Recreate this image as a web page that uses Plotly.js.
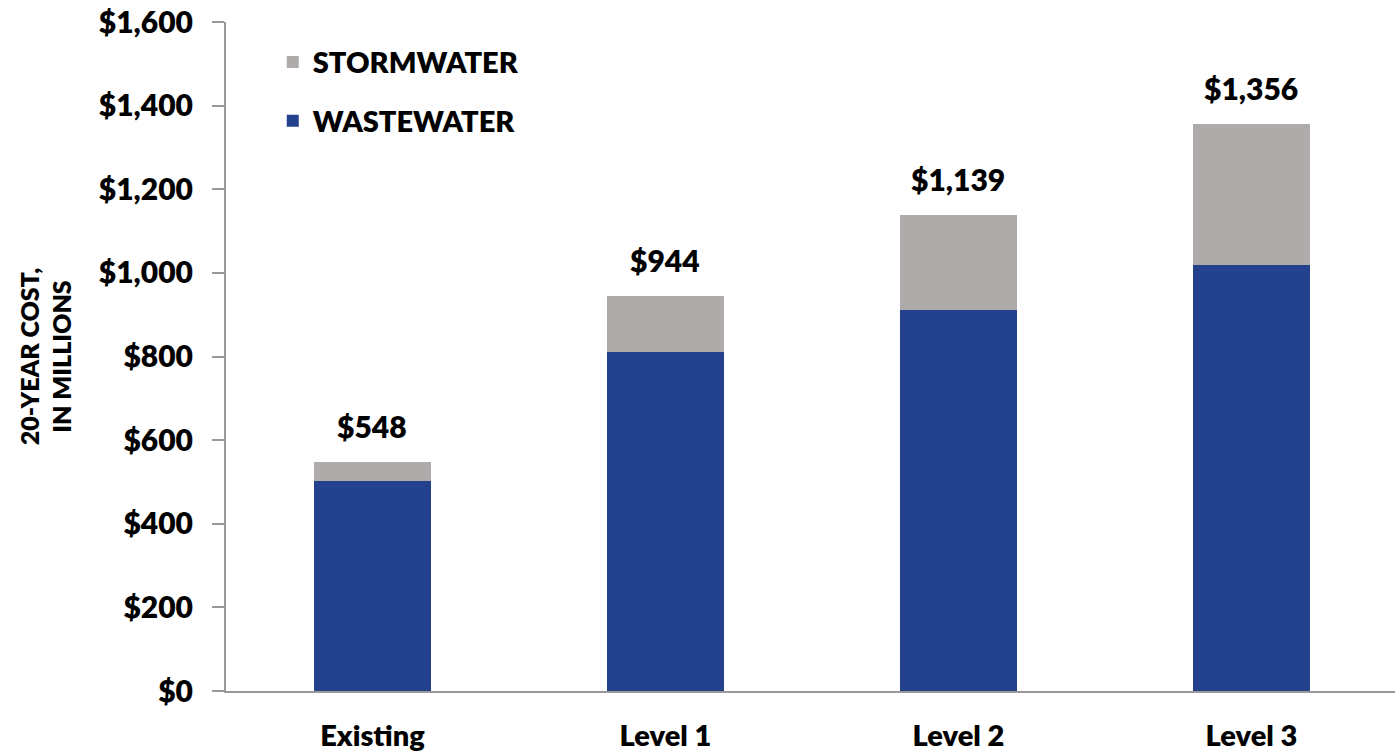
<!DOCTYPE html>
<html><head><meta charset="utf-8">
<script src="https://cdn.plot.ly/plotly-3.0.1.min.js"></script>
<style>html,body{margin:0;padding:0;background:#fff}#chart{width:1395px;height:755px}</style>
</head><body><div id="chart"></div>
<script>
const categories = ["Existing", "Level 1", "Level 2", "Level 3"];
const wastewater = [502, 811, 911, 1019];
const stormwater = [46, 133, 228, 337];
const totals = [548, 944, 1139, 1356];
const totalLabels = ["$548", "$944", "$1,139", "$1,356"];
const yTickVals = [0, 200, 400, 600, 800, 1000, 1200, 1400, 1600];
const yTickText = ["$0", "$200", "$400", "$600", "$800", "$1,000", "$1,200", "$1,400", "$1,600"];

const FONT = "Lato, 'Open Sans', sans-serif";
const W = 800;
const traces = [
  {type: "bar", name: "WASTEWATER", x: categories, y: wastewater, marker: {color: "#24418E"}, width: 0.4, hoverinfo: "skip", legendgroup: "w", legendrank: 2},
  {type: "bar", name: "STORMWATER", x: categories, y: stormwater, marker: {color: "#AFABAB"}, width: 0.4, hoverinfo: "skip", legendgroup: "s", legendrank: 1}
];
const annotations = categories.map((c, i) => ({
  x: c, y: totals[i], xref: "x", yref: "y", text: totalLabels[i], showarrow: false,
  yanchor: "bottom", yshift: 16, font: {family: FONT, size: 30, color: "#000", weight: W}
}));
const layout = {
  width: 1395, height: 755,
  margin: {l: 226, r: 0, t: 22, b: 64},
  barmode: "stack",
  paper_bgcolor: "#fff", plot_bgcolor: "#fff",
  font: {family: FONT, color: "#000"},
  showlegend: true,
  legend: {x: 0.04, y: 0.978, xanchor: "left", yanchor: "top", traceorder: "grouped", tracegroupgap: 18,
    font: {family: FONT, size: 29, color: "#000", weight: W}, bgcolor: "rgba(0,0,0,0)", itemwidth: 30},
  xaxis: {range: [-0.5, 3.49], showline: true, linecolor: "#999", linewidth: 2, ticks: "", showgrid: false,
    tickfont: {family: FONT, size: 29, color: "#000", weight: W}, ticklabelstandoff: 18, fixedrange: true},
  yaxis: {range: [0, 1600], tickvals: yTickVals, ticktext: yTickText, showline: true, linecolor: "#999", linewidth: 2,
    ticks: "outside", ticklen: 12, tickcolor: "#999", tickwidth: 2, showgrid: false, zeroline: false,
    tickfont: {family: FONT, size: 30, color: "#000", weight: W}, ticklabelstandoff: 13,
    title: {text: "20-YEAR COST,<br>IN MILLIONS", font: {family: FONT, size: 25, color: "#000", weight: W}, standoff: 20}},
  annotations: annotations
};
Plotly.newPlot("chart", traces, layout, {displayModeBar: false, staticPlot: true});
</script></body></html>
